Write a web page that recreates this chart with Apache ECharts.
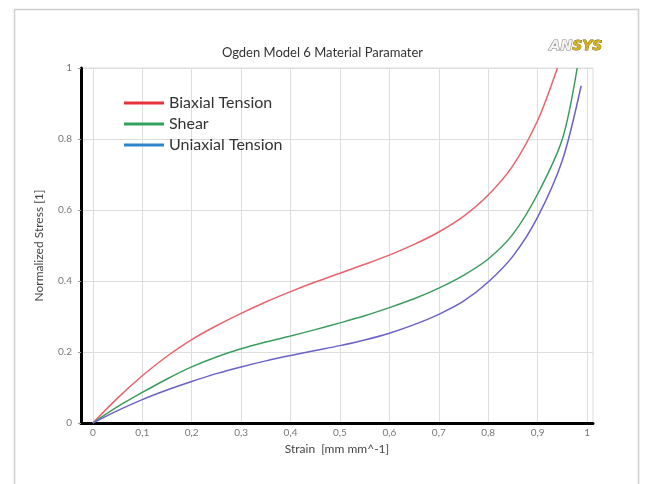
<!DOCTYPE html>
<html>
<head>
<meta charset="utf-8">
<script src="https://cdn.jsdelivr.net/npm/echarts@6/dist/echarts.min.js"></script>
<style>html,body{margin:0;padding:0;background:#fff}#c{width:645px;height:484px}</style>
</head>
<body>
<div id="c"></div>
<script>
// ---- data ----
var titleText = 'Ogden Model 6 Material Paramater';
var xName = 'Strain  [mm mm^-1]';
var yName = 'Normalized Stress [1]';
var seriesNames = ['Biaxial Tension', 'Shear', 'Uniaxial Tension'];
var xTicks = [0, 0.1, 0.2, 0.3, 0.4, 0.5, 0.6, 0.7, 0.8, 0.9, 1];

var biaxialX = [0, 0.05, 0.1, 0.15, 0.2, 0.25, 0.3, 0.35, 0.4, 0.45, 0.5, 0.55, 0.6, 0.65, 0.7, 0.75, 0.8, 0.85, 0.9, 0.94];
var biaxialY = [0, 0.07, 0.133, 0.188, 0.235, 0.274, 0.309, 0.341, 0.37, 0.397, 0.422, 0.447, 0.473, 0.503, 0.538, 0.582, 0.642, 0.725, 0.852, 1.0];

var shearX = [0, 0.05, 0.1, 0.15, 0.2, 0.25, 0.3, 0.35, 0.4, 0.45, 0.5, 0.55, 0.6, 0.65, 0.7, 0.75, 0.8, 0.85, 0.9, 0.95, 0.98];
var shearY = [0, 0.046, 0.086, 0.124, 0.158, 0.186, 0.209, 0.228, 0.245, 0.263, 0.282, 0.302, 0.325, 0.35, 0.38, 0.416, 0.462, 0.532, 0.645, 0.8, 1.0];

var uniaxialX = [0, 0.05, 0.1, 0.15, 0.2, 0.25, 0.3, 0.35, 0.4, 0.45, 0.5, 0.55, 0.6, 0.65, 0.7, 0.75, 0.8, 0.85, 0.9, 0.95, 0.988];
var uniaxialY = [0, 0.035, 0.066, 0.093, 0.117, 0.139, 0.158, 0.175, 0.19, 0.204, 0.218, 0.234, 0.253, 0.277, 0.306, 0.343, 0.397, 0.47, 0.58, 0.74, 0.95];

var lineColors = ['#e8636c', '#3a9c5c', '#6a62c6'];
var legendColors = ['#e8323c', '#2fa35a', '#2f86c8'];

function pairs(xs, ys) { return xs.map(function (x, i) { return [x, ys[i]]; }); }

var chart = echarts.init(document.getElementById('c'), null, { renderer: 'canvas' });
var font = 'Lato, "Open Sans", sans-serif';

chart.setOption({
  backgroundColor: '#ffffff',
  animation: false,
  textStyle: { fontFamily: font },
  title: {
    text: titleText,
    left: 'center',
    top: 41,
    textStyle: { fontSize: 13, fontWeight: 'normal', color: '#333', fontFamily: font }
  },
  graphic: [
    {
      type: 'rect', left: 12, top: 7, silent: true,
      shape: { width: 624, height: 520 },
      style: { fill: 'none', stroke: '#cfcfcf', lineWidth: 1.5 }
    },
    {
      type: 'text', left: 549, top: 39, silent: true,
      style: {
        text: '{a|AN}{b|SYS}',
        rich: {
          a: { fontSize: 14, fontWeight: 'bold', fontStyle: 'italic', fill: '#f4f4f4', stroke: '#8a8a8a', lineWidth: 1.2, fontFamily: 'DejaVu Sans' },
          b: { fontSize: 14, fontWeight: 'bold', fontStyle: 'italic', fill: '#d2b21e', stroke: '#7a6a10', lineWidth: 0.8, fontFamily: 'DejaVu Sans' }
        }
      }
    }
  ],
  legend: {
    orient: 'vertical',
    left: 124,
    top: 95,
    padding: 0,
    icon: 'rect',
    itemWidth: 40,
    itemHeight: 3,
    itemGap: 5,
    textStyle: { fontSize: 16, color: '#333', fontFamily: font },
    data: seriesNames.map(function (n, i) {
      return { name: n, itemStyle: { color: legendColors[i] } };
    })
  },
  grid: { left: 81, right: 52, top: 68, bottom: 61, show: true, borderColor: '#dcdcdc', borderWidth: 1 },
  xAxis: {
    type: 'value',
    min: -0.024,
    max: 1.012,
    name: xName,
    nameLocation: 'middle',
    nameGap: 19,
    nameTextStyle: { fontSize: 12, color: '#444', fontFamily: font },
    axisLine: { show: true, onZero: false, lineStyle: { color: '#000', width: 3 } },
    axisTick: { show: false, customValues: xTicks },
    axisLabel: {
      customValues: xTicks,
      fontSize: 10, color: '#777', margin: 5,
      formatter: function (v) { return String(Math.round(v * 10) / 10).replace('.', ','); }
    },
    splitLine: { show: true, lineStyle: { color: '#dedede', width: 1 } }
  },
  yAxis: {
    type: 'value',
    min: 0,
    max: 1,
    interval: 0.2,
    name: yName,
    nameLocation: 'middle',
    nameGap: 36,
    nameTextStyle: { fontSize: 12, color: '#444', fontFamily: font },
    axisLine: { show: true, onZero: false, lineStyle: { color: '#000', width: 3 } },
    axisTick: { show: true, length: 3, lineStyle: { color: '#999' } },
    axisLabel: {
      fontSize: 10, color: '#777', margin: 9,
      formatter: function (v) { return String(Math.round(v * 10) / 10); }
    },
    splitLine: { show: true, lineStyle: { color: '#dedede', width: 1 } }
  },
  series: [
    { name: seriesNames[0], type: 'line', smooth: 0.3, symbol: 'none', data: pairs(biaxialX, biaxialY), lineStyle: { color: lineColors[0], width: 1.5 }, itemStyle: { color: lineColors[0] }, z: 3 },
    { name: seriesNames[1], type: 'line', smooth: 0.3, symbol: 'none', data: pairs(shearX, shearY), lineStyle: { color: lineColors[1], width: 1.5 }, itemStyle: { color: lineColors[1] }, z: 3 },
    { name: seriesNames[2], type: 'line', smooth: 0.3, symbol: 'none', data: pairs(uniaxialX, uniaxialY), lineStyle: { color: lineColors[2], width: 1.5 }, itemStyle: { color: lineColors[2] }, z: 3 }
  ]
});
</script>
</body>
</html>
